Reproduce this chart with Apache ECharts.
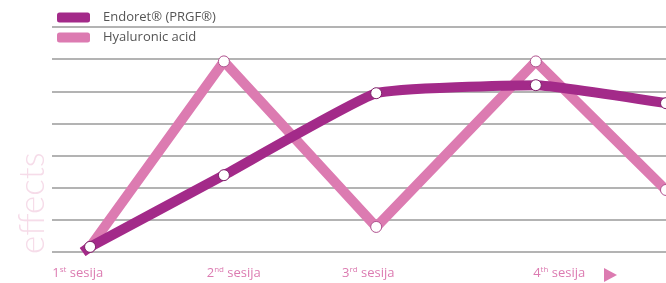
<!DOCTYPE html>
<html>
<head>
<meta charset="utf-8">
<script src="https://cdn.jsdelivr.net/npm/echarts@6/dist/echarts.min.js"></script>
<style>
  html, body { margin: 0; padding: 0; background: #fff; }
  #chart { width: 666px; height: 283px; }
</style>
</head>
<body>
<div id="chart"></div>
<script>
// session positions along the x scale (0..100)
const sessionX = [5.0, 6.2, 28.0, 52.8, 78.8, 100]
// values per point (first point is where the lines start, without marker)
const endoretValues = [0, 0.16, 2.39, 4.94, 5.19, 4.63]
const hyaluronicValues = [0, 0.16, 5.93, 0.78, 5.93, 1.93]

// x axis labels
const labelPos = [4.2, 29.6, 51.5, 82.6]
const labelNum = ['1', '2', '3', '4']
const labelSup = ['st', 'nd', 'rd', 'th']

const seriesNames = ['Endoret® (PRGF®)', 'Hyaluronic acid']
const purple = '#a32a89'
const pink = '#dc7bb1'

const toData = vals => vals.map((v, i) => i === 0
  ? { value: [sessionX[i], v], symbol: 'none' }
  : [sessionX[i], v])

const chart = echarts.init(document.getElementById('chart'))

chart.setOption({
  animation: false,
  textStyle: { fontFamily: 'Open Sans' },
  legend: {
    orient: 'vertical',
    left: 52,
    top: 6,
    itemWidth: 33,
    itemHeight: 10,
    itemGap: 7,
    icon: 'roundRect',
    data: [
      { name: seriesNames[0], itemStyle: { color: purple, borderWidth: 0 } },
      { name: seriesNames[1], itemStyle: { color: pink, borderWidth: 0 } }
    ],
    textStyle: { color: '#555', fontSize: 13, padding: [0, 0, 0, 8] }
  },
  grid: { left: 52, right: 0, top: 27, bottom: 31 },
  xAxis: {
    type: 'value',
    min: 0,
    max: 100,
    axisLine: { show: false },
    axisTick: { show: false },
    splitLine: { show: false },
    axisLabel: {
      customValues: labelPos,
      margin: 14,
      formatter: v => {
        const i = labelPos.indexOf(v)
        return '{n|' + labelNum[i] + '}{s|' + labelSup[i] + '}{n| sesija}'
      },
      rich: {
        n: { color: pink, fontSize: 13, fontFamily: 'Open Sans' },
        s: { color: pink, fontSize: 8, fontFamily: 'Open Sans', verticalAlign: 'top', padding: [0, 0, 6, 0] }
      }
    }
  },
  yAxis: {
    type: 'value',
    min: 0,
    max: 7,
    interval: 1,
    axisLabel: { show: false },
    axisLine: { show: false },
    axisTick: { show: false },
    splitLine: { lineStyle: { color: '#9a9a9a', width: 1.5 } }
  },
  graphic: [
    {
      type: 'text',
      x: 15,
      y: 254,
      rotation: Math.PI / 2,
      style: {
        text: 'effects',
        fill: '#f6dce9',
        font: '300 35px Lato',
        align: 'left',
        verticalAlign: 'top'
      }
    },
    {
      type: 'polygon',
      shape: { points: [[604, 268], [604, 282], [617, 275]] },
      style: { fill: pink }
    }
  ],
  series: [
    {
      name: seriesNames[1],
      type: 'line',
      data: toData(hyaluronicValues),
      color: pink,
      symbol: 'circle',
      symbolSize: 11,
      itemStyle: { color: '#fff', borderColor: '#b0538f', borderWidth: 1 },
      lineStyle: { color: pink, width: 10, join: 'round' },
      z: 2
    },
    {
      name: seriesNames[0],
      type: 'line',
      data: toData(endoretValues),
      color: purple,
      smooth: 0.12,
      symbol: 'circle',
      symbolSize: 11,
      itemStyle: { color: '#fff', borderColor: '#7d2068', borderWidth: 1 },
      lineStyle: { color: purple, width: 10, join: 'round' },
      z: 3
    }
  ]
})
</script>
</body>
</html>
